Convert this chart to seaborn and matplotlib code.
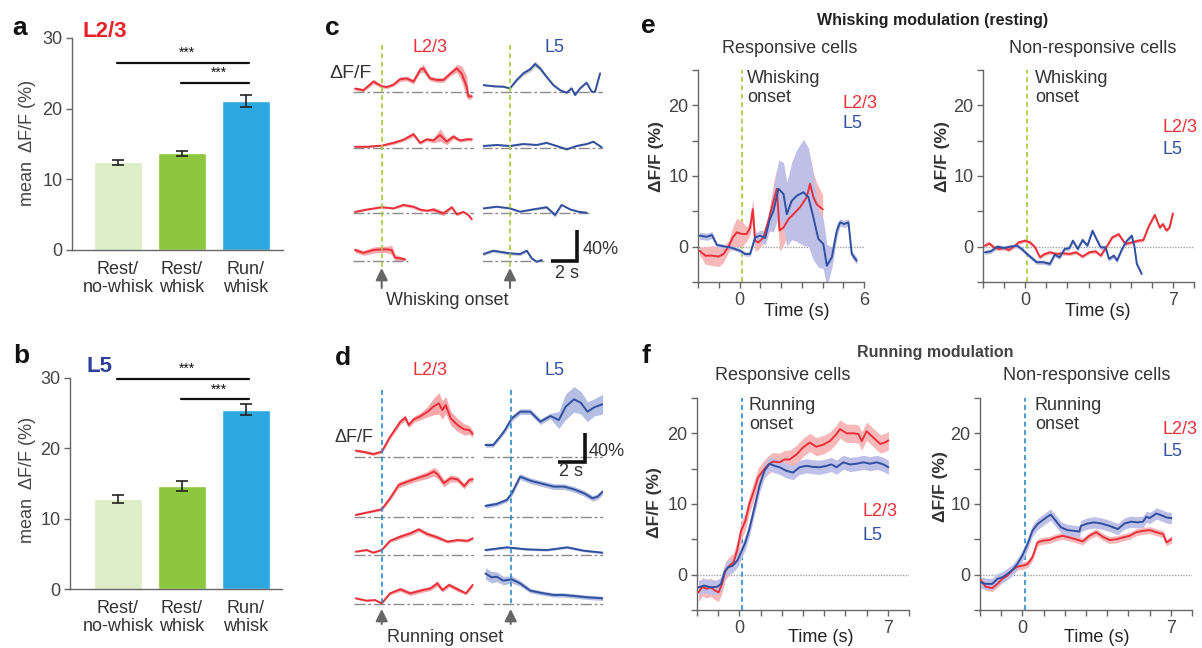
import numpy as np
import matplotlib
matplotlib.use('Agg')
import matplotlib.pyplot as plt
import seaborn as sns

sns.set_style('ticks')
plt.rcParams['font.family'] = ['Liberation Sans', 'DejaVu Sans']
plt.rcParams['font.size'] = 13
plt.rcParams['text.color'] = '#333333'
plt.rcParams['axes.edgecolor'] = '#666666'
plt.rcParams['axes.linewidth'] = 1.0
plt.rcParams['xtick.color'] = '#666666'
plt.rcParams['ytick.color'] = '#666666'
plt.rcParams['xtick.labelcolor'] = '#444444'
plt.rcParams['ytick.labelcolor'] = '#444444'

# ---------------- data ----------------
bar_labels = ['Rest/\nno-whisk', 'Rest/\nwhisk', 'Run/\nwhisk']
bar_colors = ['#dcedc8', '#8dc63f', '#2ca7e0']
l23_mean = [12.4, 13.7, 21.1]
l23_sem = [0.4, 0.35, 0.8]
l5_mean = [12.8, 14.6, 25.5]
l5_sem = [0.6, 0.7, 0.8]

# panel c: whisking onset, example cells (time s, dF/F %, sem %)
c_l23_t = [[-2.03, -1.39, -0.63, 0, 0.38, 0.89, 1.39, 1.90, 2.41, 2.91, 3.16, 3.67, 4.18, 4.68, 5.19, 5.70, 6.08, 6.46, 6.58, 6.84],
           [-2.03, -1.14, 0, 0.89, 1.65, 2.41, 2.91, 3.42, 3.92, 4.43, 4.94, 5.44, 5.95, 6.46, 6.84],
           [-2.03, -1.14, 0, 0.89, 1.65, 2.41, 2.91, 3.42, 3.92, 4.68, 5.32, 5.70, 6.20, 6.58, 6.84],
           [-2.03, -1.39, -0.63, 0, 0.38, 0.76, 1.01, 1.39, 1.77]]
c_l23_v = [[4, 2, 13, 7, 6, 9, 16, 17, 13, 28, 30, 17, 15, 15, 23, 30, 23, 6, -6, -6],
           [2, 2, 3.4, 7, 11, 18, 7, 11.5, 10, 17, 8.5, 15, 10, 11.5, 11.5],
           [1, 4, 7, 5.5, 10, 7.7, 4, 2.5, 4, -1, 7, -2, 1, -3, -8.5],
           [13.7, 10, 13.7, 14.5, 14.5, 13.7, 4, 3, 1.7]]
c_l23_s = [[2, 2, 3, 2, 2, 2, 3, 3, 3, 4, 5, 3, 3, 3, 3, 5, 10, 14, 4, 3],
           [1, 1, 1, 2, 2, 3, 2, 2, 3, 8, 4, 3, 2, 2, 2],
           [1, 1, 1, 1, 2, 2, 2, 1, 3, 3, 2, 2, 1, 1, 1],
           [3, 3, 4, 4, 4, 6, 4, 3, 2]]
c_l5_t = [[-2.03, -1.27, -0.51, 0, 0.51, 1.01, 1.52, 1.90, 2.28, 2.78, 3.29, 3.80, 4.30, 4.68, 4.94, 5.32, 5.82, 6.20, 6.46, 6.84],
          [-2.03, -1.01, 0, 1.01, 2.03, 2.78, 3.54, 4.30, 5.06, 5.82, 6.33, 6.96],
          [-2.03, -1.01, 0, 0.76, 1.77, 2.78, 3.42, 3.92, 4.56, 5.19, 5.82],
          [-2.03, -1.27, -0.51, 0, 0.76, 1.27, 1.65, 2.03, 2.41]]
c_l5_v = [[8.5, 7, 6.4, 4.3, 15, 23.5, 28.6, 35.5, 30, 19, 8.5, 2, -1.3, 4.3, -4.3, 4.3, 11.5, 0, 0, 23.5],
          [3, 4.3, 3, 5.5, 4.3, 7, 3, -1.3, 3, 5.5, 8.5, 1.3],
          [5.5, 7.7, 5.5, 1.3, 4.3, 7, -3, 10, 4.3, 1.3, 0],
          [8.5, 12.8, 10.7, 9.4, 8.5, 12.8, 3, -1.3, 0.9]]
c_l5_s = [[1, 1, 1, 1, 2, 3, 3, 4, 3, 2, 2, 1, 1, 1, 1, 1, 1, 1, 1, 1],
          [1, 1, 1, 1, 1, 1, 1, 1, 1, 1, 1, 1],
          [1, 1, 1, 1, 1, 2, 3, 1, 1, 1, 1],
          [2, 2, 2, 2, 2, 2, 2, 1, 1]]

# panel d: running onset, example cells
d_l23_t = [[-1.95, -1.39, -0.63, 0, 0.63, 1.39, 1.77, 2.03, 2.41, 2.91, 3.42, 3.92, 4.30, 4.56, 4.81, 5.19, 5.70, 6.20, 6.58, 6.84],
           [-1.95, -1.14, 0, 0.63, 1.27, 1.90, 2.66, 3.42, 3.92, 4.18, 4.68, 5.19, 5.70, 6.20, 6.58, 6.84],
           [-1.95, -1.14, -0.63, 0, 0.63, 1.39, 2.15, 2.78, 3.42, 4.18, 4.94, 5.70, 6.46, 6.84],
           [-1.95, -1.14, -0.51, 0, 0.63, 1.39, 2.15, 2.91, 3.67, 4.18, 4.56, 5.06, 5.70, 6.33, 6.84]]
d_l23_v = [[8.5, 7, 3.8, 7, 28, 49, 55, 44.6, 52.6, 57, 63, 71, 75, 65.7, 72.8, 54, 44.6, 38.5, 37.6, 32],
           [3.3, 6.6, 11.3, 26.8, 45.5, 50, 55, 59.6, 64.3, 61, 48, 55, 53.5, 44, 52.6, 53.5],
           [4.7, 7, 3.3, 7, 20, 25.8, 30.5, 36, 29.6, 24.9, 18.8, 21, 20, 23.5],
           [8, 4.7, 5.6, 1, 15, 20.7, 15, 18.8, 22, 29, 19.7, 26.8, 20.7, 15, 26.8]]
d_l23_s = [[2, 2, 2, 2, 3, 4, 4, 4, 4, 5, 7, 12, 15, 13, 12, 10, 9, 8, 6, 5],
           [1, 1, 2, 3, 4, 4, 4, 5, 6, 6, 5, 5, 4, 4, 4, 4],
           [1, 1, 1, 1, 2, 3, 3, 3, 3, 3, 2, 2, 2, 2],
           [1, 1, 1, 1, 2, 3, 3, 3, 3, 4, 3, 3, 3, 2, 3]]
d_l5_t = [[-1.90, -1.32, -0.81, -0.43, 0.08, 0.71, 1.47, 2.23, 2.99, 3.62, 4.13, 4.76, 5.27, 5.77, 6.28, 6.91],
          [-1.90, -1.06, -0.30, 0.08, 0.71, 1.47, 2.23, 3.24, 4.00, 4.76, 5.52, 6.15, 6.53, 6.91],
          [-1.90, -0.30, 1.22, 2.73, 4.25, 5.52, 6.91],
          [-1.90, -1.44, -1.06, -0.56, 0.08, 0.71, 1.47, 2.48, 3.24, 4.00, 4.76, 5.77, 6.91]]
d_l5_v = [[16.4, 16.4, 28, 37.6, 54, 63.4, 63.4, 49.3, 57.3, 51.6, 70.4, 80.8, 76, 63.4, 69.5, 74],
          [16, 18.8, 24.4, 33.8, 57.3, 51.6, 47.9, 43.2, 43.2, 39.4, 33.8, 26.8, 29, 36],
          [7, 10.8, 8, 7, 10.8, 6, 3.3],
          [43, 37.6, 38.5, 32.9, 34.7, 29, 18.8, 15, 12.7, 12.7, 11.3, 9.4, 8]]
d_l5_s = [[3, 3, 3, 4, 4, 4, 4, 4, 4, 12, 18, 18, 16, 14, 12, 14],
          [3, 3, 3, 4, 4, 4, 4, 4, 4, 4, 4, 4, 4, 4],
          [1.5, 1.5, 1.5, 1.5, 1.5, 1.5, 1.5],
          [8, 8, 7, 6, 5, 4, 3, 3, 3, 3, 3, 3, 3]]

# panel e: whisking modulation (population means)
e_resp_l23_t = [-1.93, -1.65, -1.33, -1.01, -0.77, -0.53, -0.32, -0.13, 0.11, 0.35, 0.51, 0.64, 0.75, 0.91, 1.16, 1.40, 1.64, 1.80, 1.93, 2.12, 2.36, 2.60, 2.92, 3.24, 3.40, 3.56, 3.72, 3.88, 4.01]
e_resp_l23_v = [-0.57, -1.27, -1.27, -1.4, -1.04, 0, 1.32, 2.03, 1.8, 1.8, 2.7, 5.3, 0.85, 0.6, 1.3, 3.7, 6.5, 8.2, 2.3, 2.7, 3.9, 4.6, 5.6, 7.0, 8.9, 7.0, 6.0, 5.6, 5.3]
e_resp_l23_s = [0.6, 1.2, 1.4, 1.4, 1.2, 0.8, 1.5, 2.0, 1.8, 1.0, 1.0, 1.5, 1.5, 1.0, 0.8, 1.0, 2.5, 3.0, 3.0, 2.5, 2.0, 2.0, 2.5, 3.5, 4.0, 3.5, 3.0, 2.5, 2.0]
e_resp_l5_t = [-1.93, -1.57, -1.33, -1.09, -0.77, -0.45, -0.21, 0.03, 0.27, 0.51, 0.75, 0.99, 1.24, 1.44, 1.64, 1.88, 2.12, 2.28, 2.52, 2.76, 3.08, 3.32, 3.56, 3.80, 4.04, 4.21, 4.45, 4.69, 4.85, 5.04, 5.25, 5.41, 5.65]
e_resp_l5_v = [1.56, 1.4, 1.65, 0.24, 0.05, -0.1, -0.33, -0.57, -1.04, -1.04, 1.3, 1.56, 1.23, 3.7, 5.1, 8.2, 7.45, 4.6, 6.5, 7.2, 7.7, 7.0, 4.15, 1.1, 0.38, -2.7, -1.5, 2.26, 3.44, 3.2, 3.44, -1.04, -2.0]
e_resp_l5_s = [0.5, 0.5, 0.5, 0.3, 0.3, 0.3, 0.3, 0.3, 0.3, 0.3, 0.5, 0.8, 1.0, 1.5, 3.0, 4.0, 4.5, 4.5, 5.5, 6.5, 7.5, 7.0, 6.0, 4.0, 3.5, 3.0, 1.5, 1.0, 0.5, 0.5, 0.5, 0.5, 0.5]
e_non_l23_t = [-1.91, -1.71, -1.48, -1.24, -1.01, -0.78, -0.54, -0.31, 0, 0.23, 0.47, 0.70, 0.93, 1.17, 1.48, 1.79, 2.10, 2.41, 2.72, 3.03, 3.34, 3.58, 3.89, 4.12, 4.43, 4.74, 5.05, 5.37, 5.60, 5.83, 6.14, 6.38, 6.53, 6.69, 6.84, 7.0]
e_non_l23_v = [0.14, 0.47, -0.1, -0.33, -0.19, -0.47, 0, 0.6, 0.85, 0.6, -0.1, -1.5, -1.03, -0.8, -1.03, -0.94, -1.03, -0.8, -1.4, -0.8, -0.66, -1.27, 0.14, 1.3, 1.78, 0.38, 0.6, 0.85, 0.94, 2.7, 4.5, 2.7, 3.2, 2.3, 2.7, 4.7]
e_non_l23_s = 0.25
e_non_l5_t = [-1.91, -1.63, -1.32, -1.01, -0.70, -0.39, -0.16, 0.08, 0.31, 0.54, 0.86, 1.17, 1.40, 1.63, 1.87, 2.10, 2.26, 2.49, 2.72, 2.95, 3.19, 3.34, 3.58, 3.81, 3.97, 4.20, 4.35, 4.59, 4.82, 5.05, 5.18, 5.29, 5.52]
e_non_l5_v = [-0.8, -0.66, 0, -0.19, 0, 0.14, -0.33, -1.03, -1.6, -2.2, -2.2, -2.44, -1.13, -1.5, -0.33, -0.19, 0.85, -0.33, 0.94, 0.14, 2.25, 1.3, -0.1, -0.1, -1.74, -1.27, -1.97, -0.33, 0.85, 1.55, 0, -2.44, -3.85]
e_non_l5_s = 0.3

# panel f: running modulation (population means)
f_resp_l23_t = [-1.93, -1.74, -1.58, -1.34, -1.18, -0.98, -0.82, -0.66, -0.47, -0.28, -0.11, 0.08, 0.28, 0.47, 0.71, 0.87, 1.11, 1.34, 1.58, 1.90, 2.13, 2.37, 2.69, 3.00, 3.32, 3.63, 3.95, 4.27, 4.58, 4.74, 5.06, 5.37, 5.61, 5.77, 6.00, 6.32, 6.64, 6.87, 7.03]
f_resp_l23_v = [-2.5, -1.7, -2.0, -1.8, -2.2, -2.5, -1.3, 0.56, 1.27, 1.74, 3.4, 6.2, 7.6, 10.0, 12.1, 13.7, 14.7, 15.5, 16.0, 15.9, 16.3, 16.3, 17.0, 18.0, 18.7, 18.1, 18.4, 18.9, 19.9, 20.6, 20.0, 20.0, 19.9, 18.9, 20.3, 19.4, 18.5, 18.7, 19.0]
f_resp_l23_s = 1.3
f_resp_l5_t = [-1.93, -1.66, -1.34, -1.03, -0.87, -0.71, -0.55, -0.32, -0.08, 0.08, 0.28, 0.47, 0.71, 0.95, 1.18, 1.42, 1.66, 1.90, 2.21, 2.53, 2.84, 3.16, 3.48, 3.79, 4.11, 4.34, 4.58, 4.90, 5.21, 5.53, 5.85, 6.16, 6.48, 6.79, 7.03]
f_resp_l5_v = [-1.8, -1.55, -1.8, -1.7, -1.3, 0.33, 1.0, 1.27, 2.07, 3.15, 4.56, 6.45, 9.5, 12.6, 14.7, 15.7, 15.4, 15.2, 14.7, 14.45, 15.2, 15.4, 15.25, 15.2, 15.4, 15.6, 15.2, 15.9, 15.6, 15.7, 15.9, 15.7, 15.9, 15.6, 15.2]
f_resp_l5_s = 1.0
f_non_l23_t = [-1.97, -1.74, -1.42, -1.18, -0.95, -0.71, -0.47, -0.24, 0, 0.24, 0.47, 0.71, 0.95, 1.26, 1.58, 1.90, 2.21, 2.53, 2.84, 3.16, 3.48, 3.79, 4.11, 4.42, 4.74, 5.06, 5.37, 5.69, 6.00, 6.32, 6.64, 6.79, 7.03]
f_non_l23_v = [-0.75, -1.7, -1.9, -1.3, -0.6, -0.14, 0.66, 1.13, 1.27, 1.5, 2.45, 4.56, 4.8, 4.9, 5.27, 5.5, 5.27, 5.0, 4.7, 5.5, 6.0, 5.36, 4.9, 5.0, 5.27, 5.5, 6.0, 6.2, 6.3, 6.0, 5.74, 4.56, 5.0]
f_non_l23_s = 0.5
f_non_l5_t = [-1.97, -1.74, -1.42, -1.18, -0.95, -0.71, -0.47, -0.24, 0, 0.24, 0.47, 0.71, 0.95, 1.18, 1.34, 1.58, 1.82, 2.13, 2.45, 2.69, 2.76, 3.08, 3.40, 3.71, 4.11, 4.50, 4.82, 5.13, 5.45, 5.69, 5.85, 6.00, 6.32, 6.64, 6.79, 7.03]
f_non_l5_v = [-1.08, -1.3, -1.3, -0.6, -0.38, 0.1, 0.66, 1.5, 2.7, 4.3, 6.2, 7.15, 7.7, 8.2, 8.5, 7.6, 6.7, 6.3, 6.2, 6.1, 6.9, 7.25, 7.4, 7.25, 6.9, 6.45, 7.25, 7.5, 7.4, 7.5, 8.2, 8.0, 8.66, 8.3, 8.1, 8.0]
f_non_l5_s = 0.8

# ---------------- style ----------------
RED = '#e8303a'
BLUE = '#30509f'
RED_BAND = '#f5a9ab'
BLUE_BAND = '#b4bde2'
GRAY_BAND = '#c8c8d0'
LAV_BAND = '#bfc0e8'
GREEN_DASH = '#a2cb3c'
BLUE_DASH = '#2b8ccd'
DARK = '#333333'

W, H = 1202, 648
fig = plt.figure(figsize=(W / 100, H / 100), dpi=100)


def px_rect(x0, y0, x1, y1):
    return [x0 / W, 1 - y1 / H, (x1 - x0) / W, (y1 - y0) / H]


def txt(x, y, s, **kw):
    return fig.text(x / W, 1 - y / H, s, **kw)


# ---------------- a / b: bar charts ----------------
def bar_panel(box, means, sems, sig_levels):
    ax = fig.add_axes(px_rect(*box))
    sns.barplot(x=bar_labels, y=means, hue=bar_labels, palette=bar_colors, legend=False,
                width=0.75, saturation=1, errorbar=None, ax=ax)
    ax.errorbar(np.arange(len(means)), means, yerr=sems, fmt='none', ecolor='#222222',
                elinewidth=1.2, capsize=4, capthick=1.2)
    ax.set_xlim((box[0] - 118) / 64, (box[2] - 118) / 64)
    ax.set_ylim(0, 30)
    ax.set_yticks([0, 10, 20, 30])
    ax.set_xlabel('')
    ax.set_ylabel('')
    ax.tick_params(axis='x', length=0, pad=8, labelsize=13, labelcolor=DARK)
    ax.tick_params(axis='y', length=4, width=1, pad=3, labelsize=13)
    for tl in ax.get_xticklabels():
        tl.set_linespacing(1.05)
    sns.despine(ax=ax)
    for (i, j), lev in zip([(0, 2), (1, 2)], sig_levels):
        ax.plot([i - 0.02, j + 0.05], [lev, lev], color='#111111', lw=1.6, clip_on=False)
        ax.text((i + j) / 2 + 0.07, lev + 0.4, '***', ha='center', va='bottom',
                fontsize=10, color='#111111', clip_on=False)
    return ax


bar_panel((72, 38, 283, 250), l23_mean, l23_sem, [26.5, 23.7])
bar_panel((70, 378, 282, 589), l5_mean, l5_sem, [29.9, 27.0])
txt(12, 35, 'a', fontsize=19, weight='bold', color='#111111')
txt(13, 363, 'b', fontsize=19, weight='bold', color='#111111')
txt(82, 37, 'L2/3', fontsize=16, weight='bold', color='#e8202a')
txt(86, 372, 'L5', fontsize=16, weight='bold', color='#2e3f9a')
txt(27, 143, 'mean  ΔF/F (%)', rotation=90, ha='center', va='center', fontsize=13, color='#444444')
txt(27, 480, 'mean  ΔF/F (%)', rotation=90, ha='center', va='center', fontsize=13, color='#444444')


# ---------------- c / d: example traces ----------------
def trace_column(x0, x1, onset_px, px_s, px_pct, baselines, ts, vs, ss, color, band,
                 top_pad, bottom_pad):
    xlim = ((x0 - onset_px) / px_s, (x1 - onset_px) / px_s)
    rows = []
    for base, t, v, s in zip(baselines, ts, vs, ss):
        ax = fig.add_axes(px_rect(x0, base - top_pad, x1, base + bottom_pad))
        ax.set_xlim(xlim)
        ax.set_ylim(-bottom_pad / px_pct, top_pad / px_pct)
        ax.axis('off')
        t, v, s = np.asarray(t), np.asarray(v), np.asarray(s)
        ax.hlines(0, t[0] - 0.15, t[-1] + 0.2, colors='#8c8c8c', lw=1,
                  linestyles=(0, (8, 2, 2, 2)))
        ax.fill_between(t, v - s, v + s, color=band, lw=0)
        sns.lineplot(x=t, y=v, color=color, lw=1.4, estimator=None, ax=ax)
        rows.append(ax)
    return rows, xlim


def onset_marks(x0, x1, xlim, line_top, line_bot, arrow_tip, arrow_tail, color):
    ov = fig.add_axes(px_rect(x0, 0, x1, H))
    ov.set_xlim(xlim)
    ov.set_ylim(H, 0)
    ov.axis('off')
    ov.vlines(0, line_top, line_bot, colors=color, lw=1.2, linestyles=(0, (3, 2)))
    ov.annotate('', xy=(0, arrow_tip), xytext=(0, arrow_tail),
                arrowprops=dict(arrowstyle='-|>,head_length=0.6,head_width=0.3',
                                color='#666666', lw=1.5,
                                mutation_scale=12, shrinkA=0, shrinkB=0))


c_base = [91.7, 148.3, 212.7, 260.7]
d_base = [456.7, 517.3, 555, 604]

rows, xl = trace_column(353, 474, 381.7, 13.17, 0.78, c_base, c_l23_t, c_l23_v, c_l23_s,
                        RED, RED_BAND, 50, 12)
onset_marks(353, 474, xl, 45, 267, 268, 288, GREEN_DASH)
rows, xl = trace_column(483, 603, 510, 13.17, 0.78, c_base, c_l5_t, c_l5_v, c_l5_s,
                        BLUE, GRAY_BAND, 50, 12)
onset_marks(483, 603, xl, 45, 267, 268, 288, GREEN_DASH)
rows[3].plot([3.09, 5.09, 5.09], [0, 0, 40], color='#111111', lw=2.6,
             solid_joinstyle='miter', solid_capstyle='butt', clip_on=False)

rows, xl = trace_column(353, 474, 381.7, 13.3, 0.71, d_base, d_l23_t, d_l23_v, d_l23_s,
                        RED, RED_BAND, 80, 10)
onset_marks(353, 474, xl, 390, 603, 609, 624, BLUE_DASH)
rows, xl = trace_column(483, 603, 510.7, 13.3, 0.71, d_base, d_l5_t, d_l5_v, d_l5_s,
                        BLUE, BLUE_BAND, 80, 10)
onset_marks(483, 603, xl, 390, 603, 609, 624, BLUE_DASH)
rows[0].plot([3.59, 5.59, 5.59], [-7, -7, 33], color='#111111', lw=2.6,
             solid_joinstyle='miter', solid_capstyle='butt', clip_on=False)

txt(325, 35, 'c', fontsize=19, weight='bold', color='#111111')
txt(335, 365, 'd', fontsize=19, weight='bold', color='#111111')
for y in (52, 375):
    txt(430, y, 'L2/3', ha='center', fontsize=13, color=RED)
    txt(555, y, 'L5', ha='center', fontsize=13, color=BLUE)
txt(350, 74, 'ΔF/F', ha='center', va='center', fontsize=14, color=DARK)
txt(354, 438, 'ΔF/F', ha='center', va='center', fontsize=13, color=DARK)
txt(583, 249, '40%', va='center', fontsize=13, color=DARK)
txt(567, 274, '2 s', ha='center', va='center', fontsize=13, color=DARK)
txt(589, 451, '40%', va='center', fontsize=13, color=DARK)
txt(571, 472, '2 s', ha='center', va='center', fontsize=13, color=DARK)
txt(447, 305, 'Whisking onset', ha='center', fontsize=13, color=DARK)
txt(445, 642, 'Running onset', ha='center', fontsize=13, color=DARK)


# ---------------- e / f: population averages ----------------
def mod_panel(box, xmax, end_label, series, onset_color):
    ax = fig.add_axes(px_rect(*box))
    ax.set_xlim(-2, xmax)
    ax.set_ylim(-5, 25)
    ax.axhline(0, color='#a0a0a0', lw=1, ls=(0, (1, 1)), zorder=1)
    ax.axvline(0.1, color=onset_color, lw=1.2, ls=(0, (3, 2)), zorder=1)
    for t, v, s, c, b in series:
        t, v = np.asarray(t), np.asarray(v)
        s = np.asarray(s)
        ax.fill_between(t, v - s, v + s, color=b, lw=0, zorder=2)
    for t, v, s, c, b in series:
        sns.lineplot(x=np.asarray(t), y=np.asarray(v), color=c, lw=1.4,
                     estimator=None, ax=ax, zorder=3)
    ticks = np.arange(-2, xmax + 1)
    ax.set_xticks(ticks)
    ax.set_xticklabels(['0' if k == 0 else (str(end_label) if k == end_label else '')
                        for k in ticks])
    ax.set_yticks([-5, 0, 5, 10, 15, 20, 25])
    ax.set_yticklabels(['', '0', '', '10', '', '20', ''])
    ax.tick_params(length=4, width=1, pad=3, labelsize=13)
    sns.despine(ax=ax)
    return ax


mod_panel((698, 70, 864, 282), 6, 6,
          [(e_resp_l23_t, e_resp_l23_v, e_resp_l23_s, RED, '#f7b8b9'),
           (e_resp_l5_t, e_resp_l5_v, e_resp_l5_s, BLUE, LAV_BAND)], GREEN_DASH)
mod_panel((983, 70, 1194, 282), 8, 7,
          [(e_non_l23_t, e_non_l23_v, e_non_l23_s, RED, '#f7b8b9'),
           (e_non_l5_t, e_non_l5_v, e_non_l5_s, BLUE, LAV_BAND)], GREEN_DASH)
mod_panel((697, 398, 909, 610), 8, 7,
          [(f_resp_l23_t, f_resp_l23_v, f_resp_l23_s, RED, '#f7b8b9'),
           (f_resp_l5_t, f_resp_l5_v, f_resp_l5_s, BLUE, LAV_BAND)], BLUE_DASH)
mod_panel((980, 398, 1192, 610), 8, 7,
          [(f_non_l23_t, f_non_l23_v, f_non_l23_s, RED, '#f7b8b9'),
           (f_non_l5_t, f_non_l5_v, f_non_l5_s, BLUE, LAV_BAND)], BLUE_DASH)

txt(641, 33, 'e', fontsize=19, weight='bold', color='#111111')
txt(641, 363, 'f', fontsize=19, weight='bold', color='#111111')
txt(933, 25, 'Whisking modulation (resting)', ha='center', fontsize=11.5, weight='bold', color='#222222')
txt(935, 357, 'Running modulation', ha='center', fontsize=11.5, weight='bold', color='#444444')
txt(790, 53, 'Responsive cells', ha='center', fontsize=13, color=DARK)
txt(1093, 53, 'Non-responsive cells', ha='center', fontsize=13, color=DARK)
txt(783, 380, 'Responsive cells', ha='center', fontsize=13, color=DARK)
txt(1087, 380, 'Non-responsive cells', ha='center', fontsize=13, color=DARK)
for x, y in [(657, 157), (943, 157), (655, 503), (940, 487)]:
    txt(x, y, 'ΔF/F (%)', rotation=90, ha='center', va='center', fontsize=12.5,
        weight='bold', color='#333333')
for x, y in [(797, 311), (1098, 311), (821, 637), (1097, 637)]:
    txt(x, y, 'Time (s)', ha='center', va='center', fontsize=13, color='#222222')
txt(747, 70, 'Whisking\nonset', va='top', fontsize=13, color=DARK, linespacing=1.15)
txt(1035, 70, 'Whisking\nonset', va='top', fontsize=13, color=DARK, linespacing=1.15)
txt(749, 397, 'Running\nonset', va='top', fontsize=13, color=DARK, linespacing=1.15)
txt(1035, 397, 'Running\nonset', va='top', fontsize=13, color=DARK, linespacing=1.15)
for x, y1, y2 in [(843, 103, 123), (1162, 128, 150), (862, 512, 535), (1162, 430, 452)]:
    txt(x, y1, 'L2/3', va='center', fontsize=13, color=RED)
    txt(x, y2, 'L5', va='center', fontsize=13, color=BLUE)

fig.savefig('out.png', dpi=100)
